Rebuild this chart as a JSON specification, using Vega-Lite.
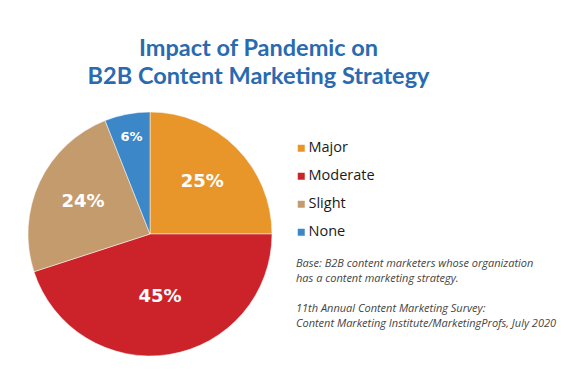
{
  "$schema": "https://vega.github.io/schema/vega-lite/v6.json",
  "padding": {"left": 27, "top": 36, "right": 0, "bottom": 0},
  "config": {"view": {"stroke": null}},
  "title": {
    "text": ["Impact of Pandemic on", "B2B Content Marketing Strategy"],
    "anchor": "middle",
    "font": "Lato",
    "fontSize": 23.5,
    "fontWeight": "bold",
    "color": "#2A6AAF",
    "lineHeight": 28,
    "offset": 23,
    "dx": -33
  },
  "spacing": 23,
  "hconcat": [
    {
      "width": 244,
      "height": 244,
      "data": {
        "values": [
          {"category": "Major", "value": 25, "order": 1},
          {"category": "Moderate", "value": 45, "order": 2},
          {"category": "Slight", "value": 24, "order": 3},
          {"category": "None", "value": 6, "order": 4}
        ]
      },
      "transform": [{"calculate": "datum.value + '%'", "as": "label"}],
      "encoding": {
        "theta": {"field": "value", "type": "quantitative", "stack": true},
        "order": {"field": "order", "type": "quantitative"}
      },
      "layer": [
        {
          "mark": {"type": "arc", "stroke": "#ffffff", "strokeWidth": 0.5},
          "encoding": {
            "color": {
              "field": "category",
              "type": "nominal",
              "scale": {
                "domain": ["Major", "Moderate", "Slight", "None"],
                "range": ["#E8962A", "#CC232B", "#C49B6C", "#3B87C8"]
              },
              "legend": {
                "orient": "none",
                "legendX": 266,
                "legendY": 29,
                "title": null,
                "symbolType": "square",
                "symbolSize": 49,
                "symbolStrokeWidth": 0,
                "symbolOpacity": 1,
                "labelFont": "Open Sans",
                "labelFontSize": 14.5,
                "labelColor": "#1a1a1a",
                "rowPadding": 13,
                "labelOffset": 0,
                "padding": 0
              }
            }
          }
        },
        {
          "mark": {"type": "text", "radius": 74, "font": "DejaVu Sans", "fontWeight": "bold", "fontSize": 18, "color": "#ffffff", "baseline": "middle"},
          "encoding": {
            "text": {"condition": {"test": "datum.category !== 'Major' && datum.category !== 'Slight'", "value": ""}, "field": "label"}
          }
        },
        {
          "mark": {"type": "text", "radius": 64, "font": "DejaVu Sans", "fontWeight": "bold", "fontSize": 18, "color": "#ffffff", "baseline": "middle"},
          "encoding": {
            "text": {"condition": {"test": "datum.category !== 'Moderate'", "value": ""}, "field": "label"}
          }
        },
        {
          "mark": {"type": "text", "radius": 99, "font": "DejaVu Sans", "fontWeight": "bold", "fontSize": 13, "color": "#ffffff", "baseline": "middle"},
          "encoding": {
            "text": {"condition": {"test": "datum.category !== 'None'", "value": ""}, "field": "label"}
          }
        }
      ]
    },
    {
      "width": 191,
      "height": 244,
      "data": {
        "values": [
          {"line": 1, "text": "Base: B2B content marketers whose organization"},
          {"line": 2, "text": "has a content marketing strategy."},
          {"line": 4, "text": "11th Annual Content Marketing Survey:"},
          {"line": 5, "text": "Content Marketing Institute/MarketingProfs, July 2020"}
        ]
      },
      "mark": {"type": "text", "align": "left", "baseline": "middle", "font": "Open Sans", "fontStyle": "italic", "fontSize": 11, "color": "#444444"},
      "encoding": {
        "x": {"datum": 0, "type": "quantitative", "scale": {"domain": [0, 1]}, "axis": null},
        "y": {"field": "line", "type": "quantitative", "scale": {"domain": [-9.133, 7.133], "reverse": true, "nice": false, "zero": false}, "axis": null},
        "text": {"field": "text"}
      }
    }
  ]
}
